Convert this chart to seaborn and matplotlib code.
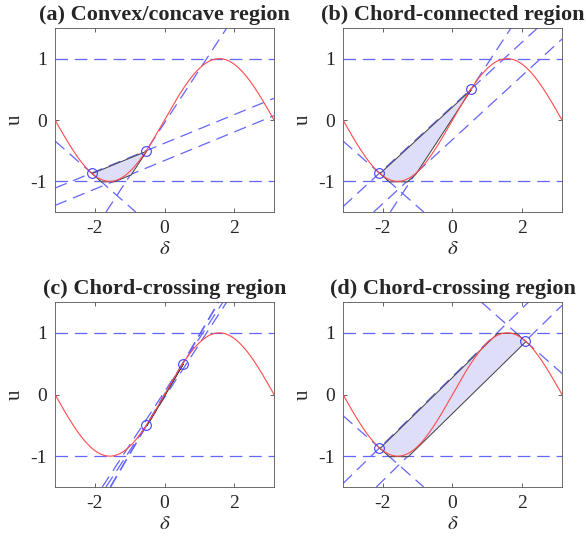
import numpy as np
import matplotlib.pyplot as plt
import seaborn as sns

sns.set_style("ticks")
plt.rcParams['font.family'] = ['Liberation Serif', 'DejaVu Serif']
plt.rcParams['mathtext.fontset'] = 'stix'
plt.rcParams['axes.unicode_minus'] = False

# panel titles
titles = ['(a) Convex/concave region', '(b) Chord-connected region',
          '(c) Chord-crossing region', '(d) Chord-crossing region']

# reference levels u = +1 / -1
levels = [1.0, -1.0]

# marked points (delta, u) per panel
pts_delta = [[-2.094, -0.524], [-2.094, 0.524], [-0.524, 0.524], [-2.094, 2.094]]
pts_u = [[-0.866, -0.5], [-0.866, 0.5], [-0.5, 0.5], [-0.866, 0.866]]

# dashed lines per panel: anchor delta, anchor u, slope
line_delta = [[-2.094, -0.524, -2.094, -1.335],
              [-2.094, 0.524, -2.094, -1.022],
              [-0.524, 0.524, -0.524, 0.524],
              [-2.094, 2.094, -2.094, 2.094]]
line_u = [[-0.866, -0.5, -0.866, -0.972],
          [-0.866, 0.5, -0.866, -0.853],
          [-0.5, 0.5, -0.5, 0.5],
          [-0.866, 0.866, -0.866, 0.866]]
line_slope = [[-0.5, 0.866, 0.233, 0.233],
              [-0.5, 0.866, 0.522, 0.522],
              [0.866, 0.866, 0.966, 0.966],
              [-0.5, -0.5, 0.553, 0.553]]

# which lines bound the shaded region from above / below
upper_idx = [[2], [2], [2, 1], [2, 1]]
lower_idx = [[0, 1, 3], [0, 1, 3], [3, 0], [3, 0]]

x_ticks = [-2, 0, 2]
y_ticks = [-1, 0, 1]

positions = [[0.0939, 0.6103, 0.3737, 0.3382],
             [0.5853, 0.6103, 0.3737, 0.3382],
             [0.0939, 0.1048, 0.3737, 0.3400],
             [0.5853, 0.1048, 0.3737, 0.3400]]

dash_col = '#6464ff'
curve_col = '#ff4a4a'

fig = plt.figure(figsize=(5.86, 5.44), dpi=100)
grid = np.linspace(-np.pi, np.pi, 600)

for k in range(4):
    ax = fig.add_axes(positions[k])

    for lv in levels:
        ax.axhline(lv, color=dash_col, lw=0.9, dashes=(10, 5.5), zorder=1)
    for x0, y0, s in zip(line_delta[k], line_u[k], line_slope[k]):
        ax.axline((x0, y0), slope=s, color=dash_col, lw=0.9, dashes=(10, 5.5), zorder=1)

    # shaded region between the bounding lines
    d = np.linspace(pts_delta[k][0], pts_delta[k][1], 800)
    ups = [line_u[k][i] + line_slope[k][i] * (d - line_delta[k][i]) for i in upper_idx[k]]
    lows = [line_u[k][i] + line_slope[k][i] * (d - line_delta[k][i]) for i in lower_idx[k]]
    upper = np.minimum(np.min(ups, axis=0), levels[0])
    lower = np.maximum(np.max(lows, axis=0), levels[1])
    ax.fill_between(d, lower, upper, facecolor='#dedef8', edgecolor='#404040',
                    linewidth=0.7, zorder=2)

    sns.lineplot(x=grid, y=np.sin(grid), ax=ax, color=curve_col, lw=0.8,
                 estimator=None, zorder=3)
    ax.plot(pts_delta[k], pts_u[k], 'o', mfc='none', mec='#4040ff', ms=7, mew=0.8, zorder=4)

    ax.set_xlim(-np.pi, np.pi)
    ax.set_ylim(-1.5, 1.5)
    ax.set_xticks(x_ticks)
    ax.set_yticks(y_ticks)
    ax.tick_params(direction='in', top=True, right=True, length=3, width=0.5,
                   labelsize=14, pad=6, colors='#262626')
    for sp in ax.spines.values():
        sp.set_linewidth(0.6)
        sp.set_color('#555555')
    ax.set_xlabel(r'$\delta$', fontsize=15, labelpad=2)
    ax.set_ylabel('u', fontsize=15, labelpad=4)
    ax.set_title(titles[k], fontsize=16, fontweight='bold', pad=6)

fig.savefig('out.png', dpi=100)
